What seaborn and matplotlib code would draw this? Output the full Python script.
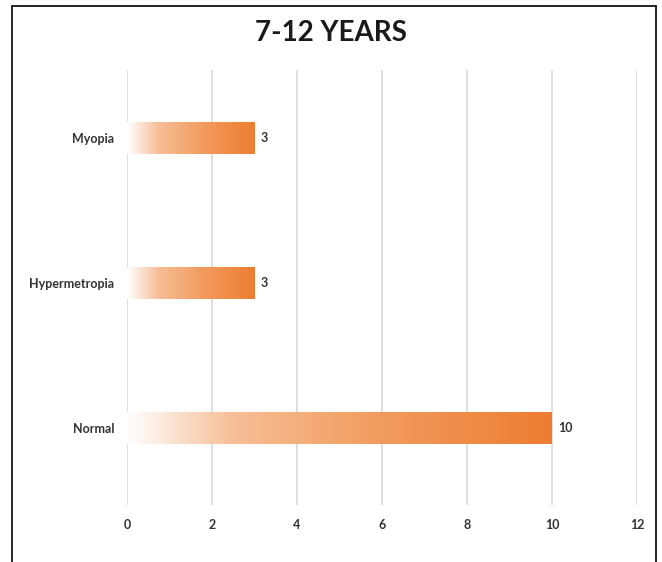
import numpy as np
import pandas as pd
import seaborn as sns
import matplotlib.pyplot as plt
from matplotlib.colors import LinearSegmentedColormap
from matplotlib.lines import Line2D

categories = ["Myopia", "Hypermetropia", "Normal"]
counts = [3, 3, 10]
x_ticks = [0, 2, 4, 6, 8, 10, 12]

df = pd.DataFrame({"Condition": categories, "Count": counts})

sns.set_theme(style="white")
plt.rcParams['font.family'] = ['Lato', 'DejaVu Sans']

fig = plt.figure(figsize=(6.62, 5.62), dpi=100)
ax = fig.add_axes([127 / 662, 1 - 505 / 562, 510 / 662, 435 / 562])

sns.barplot(data=df, x="Count", y="Condition", orient="h", width=0.22,
            color="#ED7D31", ax=ax)

# gradient fill: white on the left to orange on the right
grad_cmap = LinearSegmentedColormap.from_list(
    "fade", [(0, "#FFFFFF"), (0.25, "#F7BE96"), (0.6, "#F29B5E"), (1, "#ED7D31")])
gradient = np.linspace(0, 1, 256).reshape(1, -1)
for patch in ax.patches:
    x0, y0 = patch.get_x(), patch.get_y()
    w, h = patch.get_width(), patch.get_height()
    patch.set_facecolor("none")
    patch.set_edgecolor("none")
    im = ax.imshow(gradient, cmap=grad_cmap, aspect="auto",
                   extent=[x0, x0 + w, y0 + h, y0], zorder=3)
    im.set_clip_path(patch)
    ax.text(x0 + w + 0.15, y0 + h / 2, str(int(w)), va="center", ha="left",
            fontsize=9, fontweight="bold", color="#333333")

ax.set_xlim(0, 12)
ax.set_ylim(2.53, -0.47)
ax.set_xticks(x_ticks)
ax.set_xticklabels([str(t) for t in x_ticks], fontsize=9, fontweight="bold", color="#333333")
ax.tick_params(axis="y", labelsize=9, labelcolor="#333333", length=0, pad=9)
for lbl in ax.get_yticklabels():
    lbl.set_fontweight("bold")
ax.tick_params(axis="x", length=0, pad=10)
ax.set_xlabel("")
ax.set_ylabel("")
ax.grid(axis="x", color="#D9D9D9", linewidth=1.2, zorder=0)
ax.set_axisbelow(True)
for s in ax.spines.values():
    s.set_visible(False)

fig.text(0.5, 1 - 33 / 562, "7-12 YEARS", ha="center", va="center",
         fontsize=20, fontweight="bold", color="#1A1A1A")

# outer frame (left, top, right)
fig.add_artist(Line2D([12 / 662, 12 / 662], [0, 1 - 6 / 562], color="black", lw=1.2))
fig.add_artist(Line2D([12 / 662, 656 / 662], [1 - 6 / 562, 1 - 6 / 562], color="black", lw=1.2))
fig.add_artist(Line2D([656 / 662, 656 / 662], [0, 1 - 6 / 562], color="black", lw=1.2))

fig.savefig("out.png", dpi=100)
